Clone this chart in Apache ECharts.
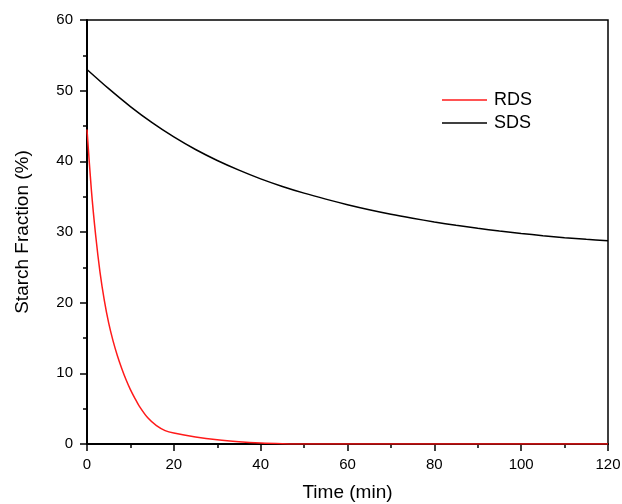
<!DOCTYPE html>
<html>
<head>
<meta charset="utf-8">
<script src="https://cdn.jsdelivr.net/npm/echarts@6/dist/echarts.min.js"></script>
<style>html,body{margin:0;padding:0;background:#fff}#c{width:622px;height:504px}</style>
</head>
<body>
<div id="c"></div>
<script>
var timeRDS = [0,1,2,3,4,5,6,7,8,9,10,11,12,14,16,18,20,25,30,35,40,45,50,60,70,80,90,100,110,120];
var valRDS  = [44.5,36.0,29.5,24.3,20.3,17.1,14.6,12.5,10.7,9.1,7.7,6.5,5.4,3.7,2.6,1.9,1.55,1.0,0.6,0.33,0.15,0.05,0,0,0,0,0,0,0,0];
var timeSDS = [0,5,10,15,20,25,30,35,40,45,50,55,60,65,70,75,80,85,90,95,100,105,110,115,120];
var valSDS  = [53.0,50.28,47.75,45.47,43.45,41.67,40.12,38.75,37.52,36.45,35.5,34.65,33.87,33.16,32.52,31.95,31.42,30.95,30.52,30.14,29.79,29.48,29.2,28.97,28.76];
var seriesNames = ['RDS','SDS'];
var xName = 'Time (min)';
var yName = 'Starch Fraction (%)';

function pairs(t, v){ return t.map(function(x,i){ return [x, v[i]]; }); }

var font = '"Liberation Sans", Arial, sans-serif';
var chart = echarts.init(document.getElementById('c'), null, {renderer:'canvas'});
chart.setOption({
  animation: false,
  backgroundColor: '#fff',
  grid: { left: 87, right: 14, top: 20, bottom: 60, show: true, borderColor: '#000', borderWidth: 1.5,
          backgroundColor: 'transparent', containLabel: false, outerBoundsMode: 'none' },
  legend: {
    orient: 'vertical', left: 437, top: 86,
    icon: 'rect', itemWidth: 45, itemHeight: 1.6, itemGap: 5,
    textStyle: { fontFamily: font, fontSize: 18, color: '#000', padding: [0,0,0,2] },
    data: seriesNames
  },
  xAxis: {
    type: 'value', min: 0, max: 120, interval: 20,
    name: xName, nameLocation: 'middle', nameGap: 39,
    nameTextStyle: { fontFamily: font, fontSize: 19, color: '#000' },
    axisLine: { show: true, onZero: false, lineStyle: { color: '#000', width: 2 } },
    axisTick: { show: true, inside: false, length: 7, lineStyle: { color: '#000', width: 1.5 } },
    minorTick: { show: true, splitNumber: 2, length: 4, lineStyle: { color: '#000', width: 1.5 } },
    axisLabel: { fontFamily: font, fontSize: 15, color: '#000', margin: 13 },
    splitLine: { show: false }
  },
  yAxis: {
    type: 'value', min: 0, max: 60, interval: 10,
    name: yName, nameLocation: 'middle', nameGap: 55, nameRotate: 90,
    nameTextStyle: { fontFamily: font, fontSize: 19, color: '#000' },
    axisLine: { show: true, onZero: false, lineStyle: { color: '#000', width: 2 } },
    axisTick: { show: true, inside: false, length: 7, lineStyle: { color: '#000', width: 1.5 } },
    minorTick: { show: true, splitNumber: 2, length: 4, lineStyle: { color: '#000', width: 1.5 } },
    axisLabel: { fontFamily: font, fontSize: 15, color: '#000', margin: 14 },
    splitLine: { show: false }
  },
  series: [
    { name: seriesNames[0], type: 'line', data: pairs(timeRDS, valRDS), smooth: 0.3, symbol: 'none',
      lineStyle: { color: '#ff1a1a', width: 1.5 }, itemStyle: { color: '#ff1a1a' }, z: 3 },
    { name: seriesNames[1], type: 'line', data: pairs(timeSDS, valSDS), smooth: 0.3, symbol: 'none',
      lineStyle: { color: '#000', width: 1.5 }, itemStyle: { color: '#000' }, z: 2 }
  ]
});
</script>
</body>
</html>
